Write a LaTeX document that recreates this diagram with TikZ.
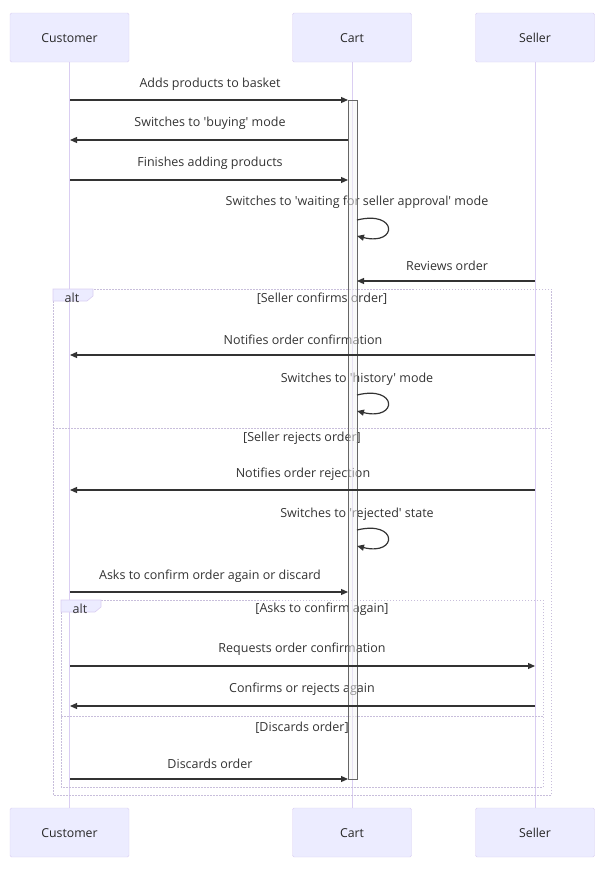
\documentclass[tikz,border=0pt]{standalone}
\usepackage{fontspec}
\setmainfont{Open Sans}[Ligatures=TeXOff]
\usetikzlibrary{arrows.meta}
\definecolor{actfill}{HTML}{ECECFF}
\definecolor{actborder}{HTML}{DACEF2}
\definecolor{msg}{HTML}{333333}
\definecolor{barfill}{HTML}{F4F4F4}
\definecolor{barline}{HTML}{666666}
\tikzset{
  actor/.style={draw=actborder, fill=actfill, rounded corners=1.5pt, minimum width=119pt, minimum height=49pt, inner sep=0pt, text height=10pt, text depth=0pt, font=\fontsize{12.3}{14}\selectfont, text=black!85},
  lifeline/.style={draw=actborder, line width=0.8pt},
  msgline/.style={draw=msg, line width=1.2pt, -{Triangle[length=7pt,width=6pt]}},
  msgtext/.style={font=\fontsize{12.5}{14}\selectfont, text=msg, inner sep=0pt, yshift=-1.5pt},
  framebox/.style={draw=actborder!80!gray, line width=0.7pt, dash pattern=on 1.5pt off 1.5pt},
  altlabel/.style={fill=actfill, draw=actborder, line width=0.6pt},
  actbar/.style={draw=barline, fill=barfill, fill opacity=0.5, line width=0.7pt}
}
\begin{document}
\begin{tikzpicture}[x=1pt,y=-1pt]
\useasboundingbox (0,0) rectangle (603,870);
% actors
\node[actor] (cT) at (69.5,37.5) {Customer};
\node[actor] (aT) at (352,37.5) {Cart};
\node[actor] (sT) at (535,37.5) {Seller};
\node[actor] (cB) at (69.5,832.5) {Customer};
\node[actor] (aB) at (352,832.5) {Cart};
\node[actor] (sB) at (535,832.5) {Seller};
\draw[lifeline] (cT.south) -- (cB.north);
\draw[lifeline] (aT.south) -- (aB.north);
\draw[lifeline] (sT.south) -- (sB.north);
% outer alt frame
\draw[framebox] (53,289) rectangle (551,795);
\draw[altlabel] (53,289) -- (93,289) -- (93,296) -- (87,301) -- (53,301) -- cycle;
\node[msgtext] (alt1) at (72,296) {alt};
\node[msgtext] (g1) at (322,297) {[Seller confirms order]};
\draw[framebox] (53,428) -- (551,428);
\node[msgtext] (g2) at (302,437) {[Seller rejects order]};
% inner alt frame
\draw[framebox] (61,600) rectangle (543,787);
\draw[altlabel] (61,600) -- (101,600) -- (101,607) -- (95,612) -- (61,612) -- cycle;
\node[msgtext] (alt2) at (80,607) {alt};
\node[msgtext] (g3) at (322,608) {[Asks to confirm again]};
\draw[framebox] (61,716) -- (543,716);
\node[msgtext] (g4) at (302,726) {[Discards order]};
% message texts
\node[msgtext] (t1) at (210,83) {Adds products to basket};
\node[msgtext] (t2) at (210,122) {Switches to 'buying' mode};
\node[msgtext] (t3) at (210,162) {Finishes adding products};
\node[msgtext] (t4) at (357,201) {Switches to 'waiting for seller approval' mode};
\node[msgtext] (t5) at (447,264) {Reviews order};
\node[msgtext] (t6) at (303,338) {Notifies order confirmation};
\node[msgtext] (t7) at (357,378) {Switches to 'history' mode};
\node[msgtext] (t8) at (303,473) {Notifies order rejection};
\node[msgtext] (t9) at (357,513) {Switches to 'rejected' state};
\node[msgtext] (t10) at (210,575) {Asks to confirm order again or discard};
\node[msgtext] (t11) at (302,648) {Requests order confirmation};
\node[msgtext] (t12) at (302,688) {Confirms or rejects again};
\node[msgtext] (t13) at (210,762) {Discards order};
% activation bar
\draw[actbar] (348,100) rectangle (357,779);
% coordinates for messages
\coordinate (c1) at (70,100); \coordinate (a1) at (348,100);
\coordinate (c2) at (70,140); \coordinate (a2) at (348,140);
\coordinate (c3) at (70,180); \coordinate (a3) at (348,180);
\coordinate (s5) at (535,281); \coordinate (a5) at (357,281);
\coordinate (s6) at (535,355); \coordinate (c6) at (70,355);
\coordinate (s8) at (535,490); \coordinate (c8) at (70,490);
\coordinate (c10) at (70,592); \coordinate (a10) at (348,592);
\coordinate (c11) at (70,666); \coordinate (s11) at (535,666);
\coordinate (s12) at (535,706); \coordinate (c12) at (70,706);
\coordinate (c13) at (70,779); \coordinate (a13) at (348,779);
\coordinate (l4a) at (357,220); \coordinate (l4b) at (357,236);
\coordinate (l7a) at (357,395); \coordinate (l7b) at (357,411);
\coordinate (l9a) at (357,530); \coordinate (l9b) at (357,546);
% message lines
\draw[msgline] (c1) -- (a1);
\draw[msgline] (a2) -- (c2);
\draw[msgline] (c3) -- (a3);
\draw[msgline] (l4a) .. controls (398,210) and (398,246) .. (l4b);
\draw[msgline] (s5) -- (a5);
\draw[msgline] (s6) -- (c6);
\draw[msgline] (l7a) .. controls (398,385) and (398,421) .. (l7b);
\draw[msgline] (s8) -- (c8);
\draw[msgline] (l9a) .. controls (398,520) and (398,556) .. (l9b);
\draw[msgline] (c10) -- (a10);
\draw[msgline] (c11) -- (s11);
\draw[msgline] (s12) -- (c12);
\draw[msgline] (c13) -- (a13);
\end{tikzpicture}
\end{document}
